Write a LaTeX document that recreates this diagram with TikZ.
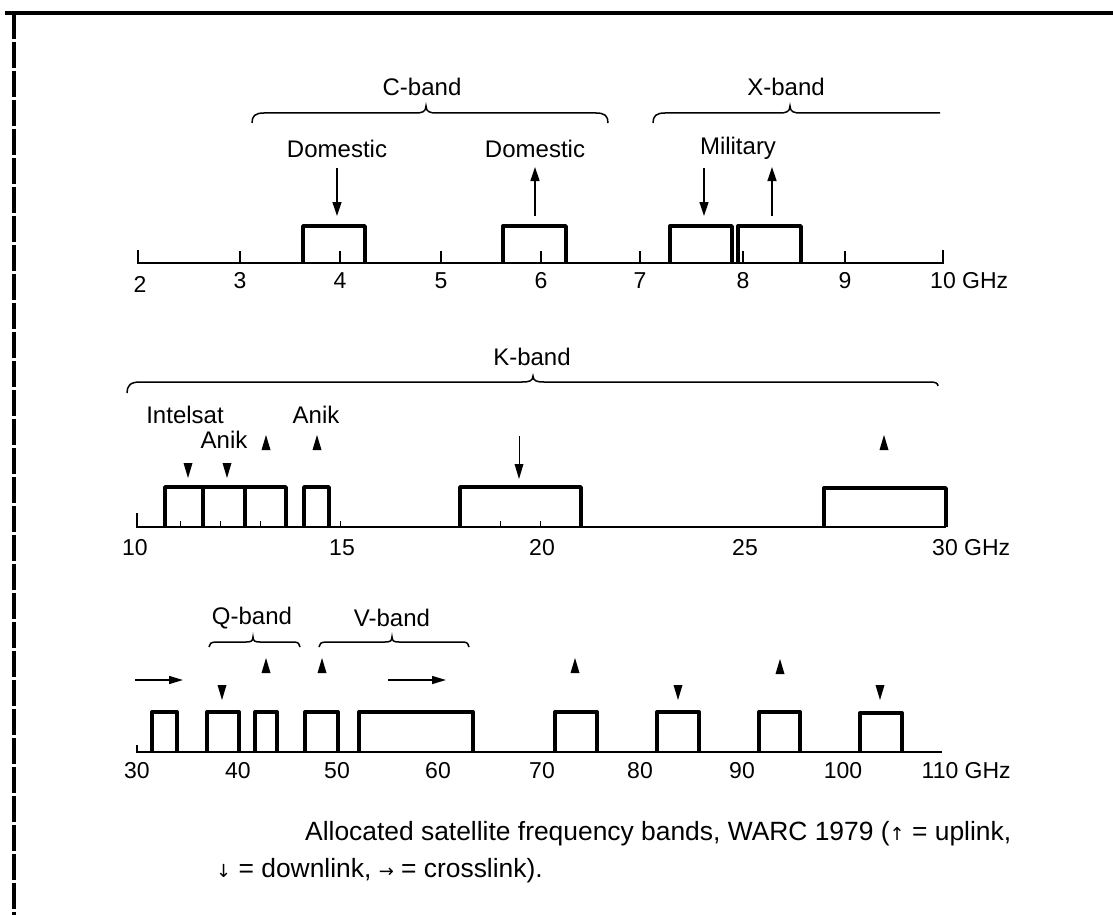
\documentclass[tikz,border=0pt]{standalone}
\usepackage{fontspec}
\setmainfont{Liberation Sans}
\newfontfamily\symfont{DejaVu Sans}
\usetikzlibrary{arrows.meta}
\tikzset{
  lbl/.style={font=\fontsize{24}{28}\selectfont, inner sep=0pt},
  num/.style={font=\fontsize{23}{27}\selectfont, inner sep=0pt},
  captext/.style={font=\fontsize{26.4}{30}\selectfont, inner sep=0pt, anchor=base west},
  axisline/.style={line width=2.2pt},
  tickmark/.style={line width=1.2pt},
  minortick/.style={line width=0.8pt},
  bandbox/.style={line width=3.4pt, line join=round},
  bracel/.style={line width=1.5pt},
  stem/.style={line width=1.3pt, -{Triangle[length=14pt,width=9pt]}},
  xlink/.style={line width=1.5pt, -{Triangle[length=14pt,width=8pt]}},
  frame/.style={line width=4pt},
}
\newcommand\smallsym[1]{{\symfont\fontsize{18}{20}\selectfont #1}}
% filled triangle markers: x, tip y
\newcommand\uptri[2]{\fill (#1,#2) -- (#1-4.5,#2+15) -- (#1+4.5,#2+15) -- cycle;}
\newcommand\dntri[2]{\fill (#1,#2) -- (#1-4.5,#2-15) -- (#1+4.5,#2-15) -- cycle;}
% open-bottom band box: x1, x2, axis y, top y
\newcommand\band[4]{\draw[bandbox] (#1,#3) -- (#1,#4) -- (#2,#4) -- (#2,#3);}
\begin{document}
\begin{tikzpicture}[x=1pt,y=-1pt]
\useasboundingbox (0,0) rectangle (1113,915);
% frame
\draw[frame] (5,13) -- (1113,13);
\draw[frame, dash pattern=on 26pt off 3pt] (14,13) -- (14,915);

% ================= Panel 1: 2-10 GHz =================
\draw[axisline] (138,250) -- (138,263) -- (943,263) -- (943,250);
\foreach \x in {240,340,441,541,640,743,845} \draw[tickmark] (\x,251) -- (\x,263);
\foreach \x/\t in {240/3,340/4,441/5,541/6,640/7,743/8,845/9}
  \node[num] at (\x,281) {\t};
\node[num] (n2) at (140,284) {2};
\node[num] (n10) at (943,281) {10\rlap{ GHz}};
\band{303}{365}{263}{226}
\band{503}{566}{263}{226}
\band{670}{732}{263}{226}
\band{738}{801}{263}{226}
% labels
\node[lbl] (cband) at (422,87) {C-band};
\node[lbl] (xband) at (786,87) {X-band};
\node[lbl] (dom1) at (337,149) {Domestic};
\node[lbl] (dom2) at (535,149) {Domestic};
\node[lbl] (mil) at (738,148) {Military};
% braces
\draw[bracel] (252,123) .. controls (252,116) and (255,113) .. (264,113) -- (415,113)
  .. controls (422,113) and (426,112) .. (426,106) .. controls (426,112) and (430,113) .. (437,113)
  -- (596,113) .. controls (605,113) and (608,116) .. (608,123);
\draw[bracel] (653,123) .. controls (653,116) and (656,113) .. (665,113) -- (779,113)
  .. controls (786,113) and (790,112) .. (790,106) .. controls (790,112) and (794,113) .. (801,113)
  -- (940,113);
% arrows
\coordinate (a1s) at (337,168); \coordinate (a1e) at (337,216);
\coordinate (a2s) at (535,216); \coordinate (a2e) at (535,167);
\coordinate (a3s) at (704,168); \coordinate (a3e) at (704,216);
\coordinate (a4s) at (772,216); \coordinate (a4e) at (772,167);
\draw[stem] (a1s) -- (a1e);
\draw[stem] (a2s) -- (a2e);
\draw[stem] (a3s) -- (a3e);
\draw[stem] (a4s) -- (a4e);

% ================= Panel 2: 10-30 GHz =================
\draw[axisline] (137,513) -- (137,527) -- (946,527);
\foreach \x in {180,220,260,340,500,540} \draw[minortick] (\x,521) -- (\x,527);
\foreach \x/\t in {342/15,542/20,745/25}
  \node[num] at (\x,548) {\t};
\node[num] (k10) at (135,548) {10};
\node[num] (k30) at (945,548) {30\rlap{ GHz}};
\band{165}{203}{527}{487}
\band{203}{245}{527}{487}
\band{245}{286}{527}{487}
\band{304}{329}{527}{487}
\band{460}{581}{527}{487}
\band{824}{946}{527}{488}
\node[lbl] (kband) at (532,357) {K-band};
\draw[bracel] (127,393) .. controls (127,386) and (130,382) .. (140,382) -- (522,382)
  .. controls (529,382) and (533,381) .. (533,376) .. controls (533,381) and (537,382) .. (544,382)
  -- (930,382) .. controls (935,382) and (938,383) .. (938,386);
\node[lbl] (intel) at (185,415) {Intelsat};
\node[lbl] (anik1) at (224,440) {Anik};
\node[lbl] (anik2) at (316,415) {Anik};
\dntri{188}{478}
\dntri{227}{478}
\uptri{266}{435}
\uptri{317}{435}
\draw[line width=0.6pt] (519,436) -- (519,464);
\dntri{519}{479}
\uptri{884}{435}

% ================= Panel 3: 30-110 GHz =================
\draw[axisline] (137,745) -- (137,752) -- (942,752);
\foreach \x/\t in {238/40,337/50,438/60,542/70,640/80,742/90,843/100}
  \node[num] at (\x,771) {\t};
\node[num] (v30) at (137,771) {30};
\node[num] (v110) at (940,771) {110\rlap{ GHz}};
\band{152}{177}{752}{712}
\band{207}{239}{752}{712}
\band{255}{277}{752}{712}
\band{305}{338}{752}{712}
\band{359}{473}{752}{712}
\band{555}{597}{752}{712}
\band{657}{699}{752}{712}
\band{759}{800}{752}{712}
\band{860}{902}{752}{713}
\node[lbl] (qband) at (252,618) {Q-band};
\node[lbl] (vband) at (392,618) {V-band};
\draw[bracel] (209,647) .. controls (209,644) and (211,642) .. (216,642) -- (246,642)
  .. controls (251,642) and (253,641) .. (253,637) .. controls (253,641) and (255,642) .. (260,642)
  -- (294,642) .. controls (298,642) and (300,644) .. (300,647);
\draw[bracel] (319,647) .. controls (319,644) and (321,642) .. (326,642) -- (385,642)
  .. controls (390,642) and (392,641) .. (392,637) .. controls (392,641) and (394,642) .. (399,642)
  -- (463,642) .. controls (467,642) and (469,644) .. (469,647);
\coordinate (x1s) at (135,680); \coordinate (x1e) at (183,680);
\coordinate (x2s) at (388,680); \coordinate (x2e) at (446,680);
\draw[xlink] (x1s) -- (x1e);
\draw[xlink] (x2s) -- (x2e);
\dntri{222}{700}
\uptri{266}{658}
\uptri{322}{658}
\uptri{575}{658}
\dntri{678}{700}
\uptri{780}{659}
\dntri{880}{700}

% ================= Caption =================
\node[captext] (cap1) at (305,840) {Allocated satellite frequency bands, WARC 1979 (\smallsym{↑} = uplink,};
\node[captext] (cap2) at (216,877) {\smallsym{↓} = downlink, \smallsym{→} = crosslink).};
\end{tikzpicture}
\end{document}
